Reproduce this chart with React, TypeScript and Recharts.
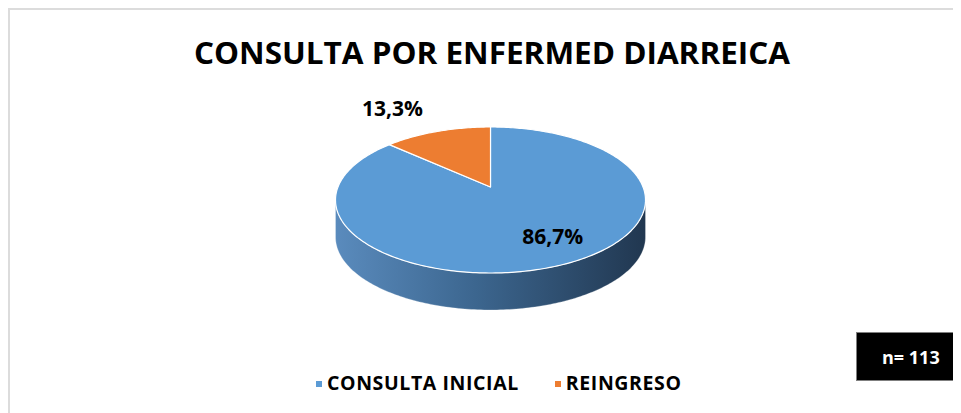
import React from 'react';
import { PieChart, Pie, Cell, Legend } from 'recharts';

// ---- data ----
const categories = ['CONSULTA INICIAL', 'REINGRESO'];
const percentages = [86.7, 13.3];
const sampleSize = 113;
const chartTitle = 'CONSULTA POR ENFERMED DIARREICA';

// ---- styles ----
const W = 953;
const H = 405;
const FONT = '"Open Sans", "Liberation Sans", sans-serif';
const topColors = ['#5b9bd5', '#ed7d31'];
const sideStops = [
  { o: 0, c: '#5a8bbd' },
  { o: 0.45, c: '#3c668f' },
  { o: 1, c: '#213750' },
];
// perspective parameters of the 3D pie
const PERSP_K = 0.178;
const TILT = 70.7 / 155;
const DEPTH = 37;
const labelPlacement = [
  { fx: 0.99, fy: 0.75 },
  { fx: 1.56, fy: 1.18 },
];

const data = categories.map((name, i) => ({ name, value: percentages[i] }));

const RAD = Math.PI / 180;

function projector(cx: number, cy: number, R: number) {
  const A = R * Math.sqrt(1 - PERSP_K * PERSP_K);
  const D = R * TILT;
  return (deg: number, dy = 0) => {
    const u = Math.cos(deg * RAD);
    const v = Math.sin(deg * RAD);
    const w = 1 + PERSP_K * v;
    return [cx + (A * u) / w, cy - (D * v) / w + dy];
  };
}

function sample(a1: number, a2: number) {
  const n = Math.max(2, Math.ceil(Math.abs(a2 - a1) / 1));
  const out: number[] = [];
  for (let i = 0; i <= n; i++) out.push(a1 + ((a2 - a1) * i) / n);
  return out;
}

function Slice3D(props: any) {
  const { cx, cy, outerRadius, startAngle, endAngle, fill, index } = props;
  const P = projector(cx, cy, outerRadius);
  const lo = Math.min(startAngle, endAngle);
  const hi = Math.max(startAngle, endAngle);
  const rim = sample(startAngle, endAngle).map((a) => P(a));
  const topPath = `M${cx},${cy} ` + rim.map((p) => `L${p[0].toFixed(2)},${p[1].toFixed(2)}`).join(' ') + ' Z';

  // visible front wall: between the silhouette points
  const edge = (Math.asin(PERSP_K) * 180) / Math.PI;
  const sides: string[] = [];
  for (let k = -2; k <= 1; k++) {
    const a1 = Math.max(lo, -180 + edge + 360 * k);
    const a2 = Math.min(hi, -edge + 360 * k);
    if (a2 - a1 > 0.01) {
      const angs = sample(a1, a2);
      const top = angs.map((a) => P(a));
      const bot = angs.slice().reverse().map((a) => P(a, DEPTH));
      const pts = top.concat(bot);
      sides.push('M' + pts.map((p) => `${p[0].toFixed(2)},${p[1].toFixed(2)}`).join(' L') + ' Z');
    }
  }
  const left = P(180 + edge)[0];
  const right = P(-edge)[0];
  const gid = `side-grad-${index}`;
  return (
    <g>
      <defs>
        <linearGradient id={gid} gradientUnits="userSpaceOnUse" x1={left} y1={0} x2={right} y2={0}>
          {sideStops.map((s) => (
            <stop key={s.o} offset={s.o} stopColor={s.c} />
          ))}
        </linearGradient>
      </defs>
      {sides.map((d, i) => (
        <path key={i} d={d} fill={`url(#${gid})`} stroke="#ffffff" strokeOpacity={0.35} strokeWidth={0.8} />
      ))}
      <path d={topPath} fill={fill} stroke="#ffffff" strokeWidth={1.2} strokeLinejoin="round" />
    </g>
  );
}

function renderLabel(props: any) {
  const { cx, cy, midAngle, outerRadius, index, value } = props;
  const p = labelPlacement[index] || { fx: 1, fy: 1 };
  const x = cx + outerRadius * p.fx * Math.cos(midAngle * RAD);
  const y = cy - outerRadius * TILT * 1.03 * p.fy * Math.sin(midAngle * RAD);
  const fs = 21;
  return (
    <text
      x={x}
      y={y + fs * 0.36}
      textAnchor="middle"
      fontFamily={FONT}
      fontWeight={700}
      fontSize={fs}
      fill="#000000"
    >
      {value.toFixed(1).replace('.', ',') + '%'}
    </text>
  );
}

function renderLegend(props: any) {
  const { payload } = props;
  return (
    <div style={{ display: 'flex', alignItems: 'center', fontFamily: FONT, fontWeight: 700, fontSize: 19.5, letterSpacing: 0.6, lineHeight: '20px', color: '#000', whiteSpace: 'nowrap' }}>
      {(payload || []).map((entry: any, i: number) => (
        <div key={i} style={{ display: 'flex', alignItems: 'center', marginRight: i === 0 ? 36 : 0 }}>
          <span style={{ display: 'inline-block', width: 6, height: 6, background: topColors[i] || entry.color, marginRight: 5, marginTop: 2 }} />
          <span>{entry.value}</span>
        </div>
      ))}
    </div>
  );
}

export default function App() {
  return (
    <div style={{ position: 'relative', width: W, height: H, background: '#ffffff', overflow: 'hidden' }}>
      <div
        style={{
          position: 'absolute',
          left: 0,
          top: 0,
          width: W + 10,
          height: H + 10,
          borderTop: '2px solid #dcdcdc',
          borderLeft: '2px solid #dcdcdc',
          boxSizing: 'border-box',
        }}
      />
      <PieChart width={W} height={H} margin={{ top: 0, right: 0, bottom: 0, left: 0 }}>
        <Pie
          data={data}
          dataKey="value"
          nameKey="name"
          cx={482.5}
          cy={179}
          outerRadius={155}
          startAngle={90}
          endAngle={-270}
          isAnimationActive={false}
          shape={Slice3D}
          inactiveShape={Slice3D}
          activeShape={Slice3D}
          label={renderLabel}
          labelLine={false}
          {...({} as any)}
        >
          {data.map((d, i) => (
            <Cell key={d.name} fill={topColors[i]} />
          ))}
        </Pie>
        <Legend
          content={renderLegend}
          wrapperStyle={{ position: 'absolute', left: 308, top: 365, width: 'auto' }}
        />
      </PieChart>
      <svg width={W} height={90} style={{ position: 'absolute', left: 0, top: 0, pointerEvents: 'none' }}>
        <text
          x={484}
          y={56}
          textAnchor="middle"
          fontFamily={FONT}
          fontWeight={700}
          fontSize={31}
          textLength={596}
          lengthAdjust="spacingAndGlyphs"
          fill="#000000"
        >
          {chartTitle}
        </text>
      </svg>
      <div
        style={{
          position: 'absolute',
          left: 848,
          top: 324,
          width: 110,
          height: 49,
          background: '#000000',
          border: '1px solid #7f7f7f',
          boxSizing: 'border-box',
          color: '#ffffff',
          fontFamily: FONT,
          fontWeight: 700,
          fontSize: 18,
          display: 'flex',
          alignItems: 'center',
          paddingLeft: 25,
        }}
      >
        {`n= ${sampleSize}`}
      </div>
    </div>
  );
}
